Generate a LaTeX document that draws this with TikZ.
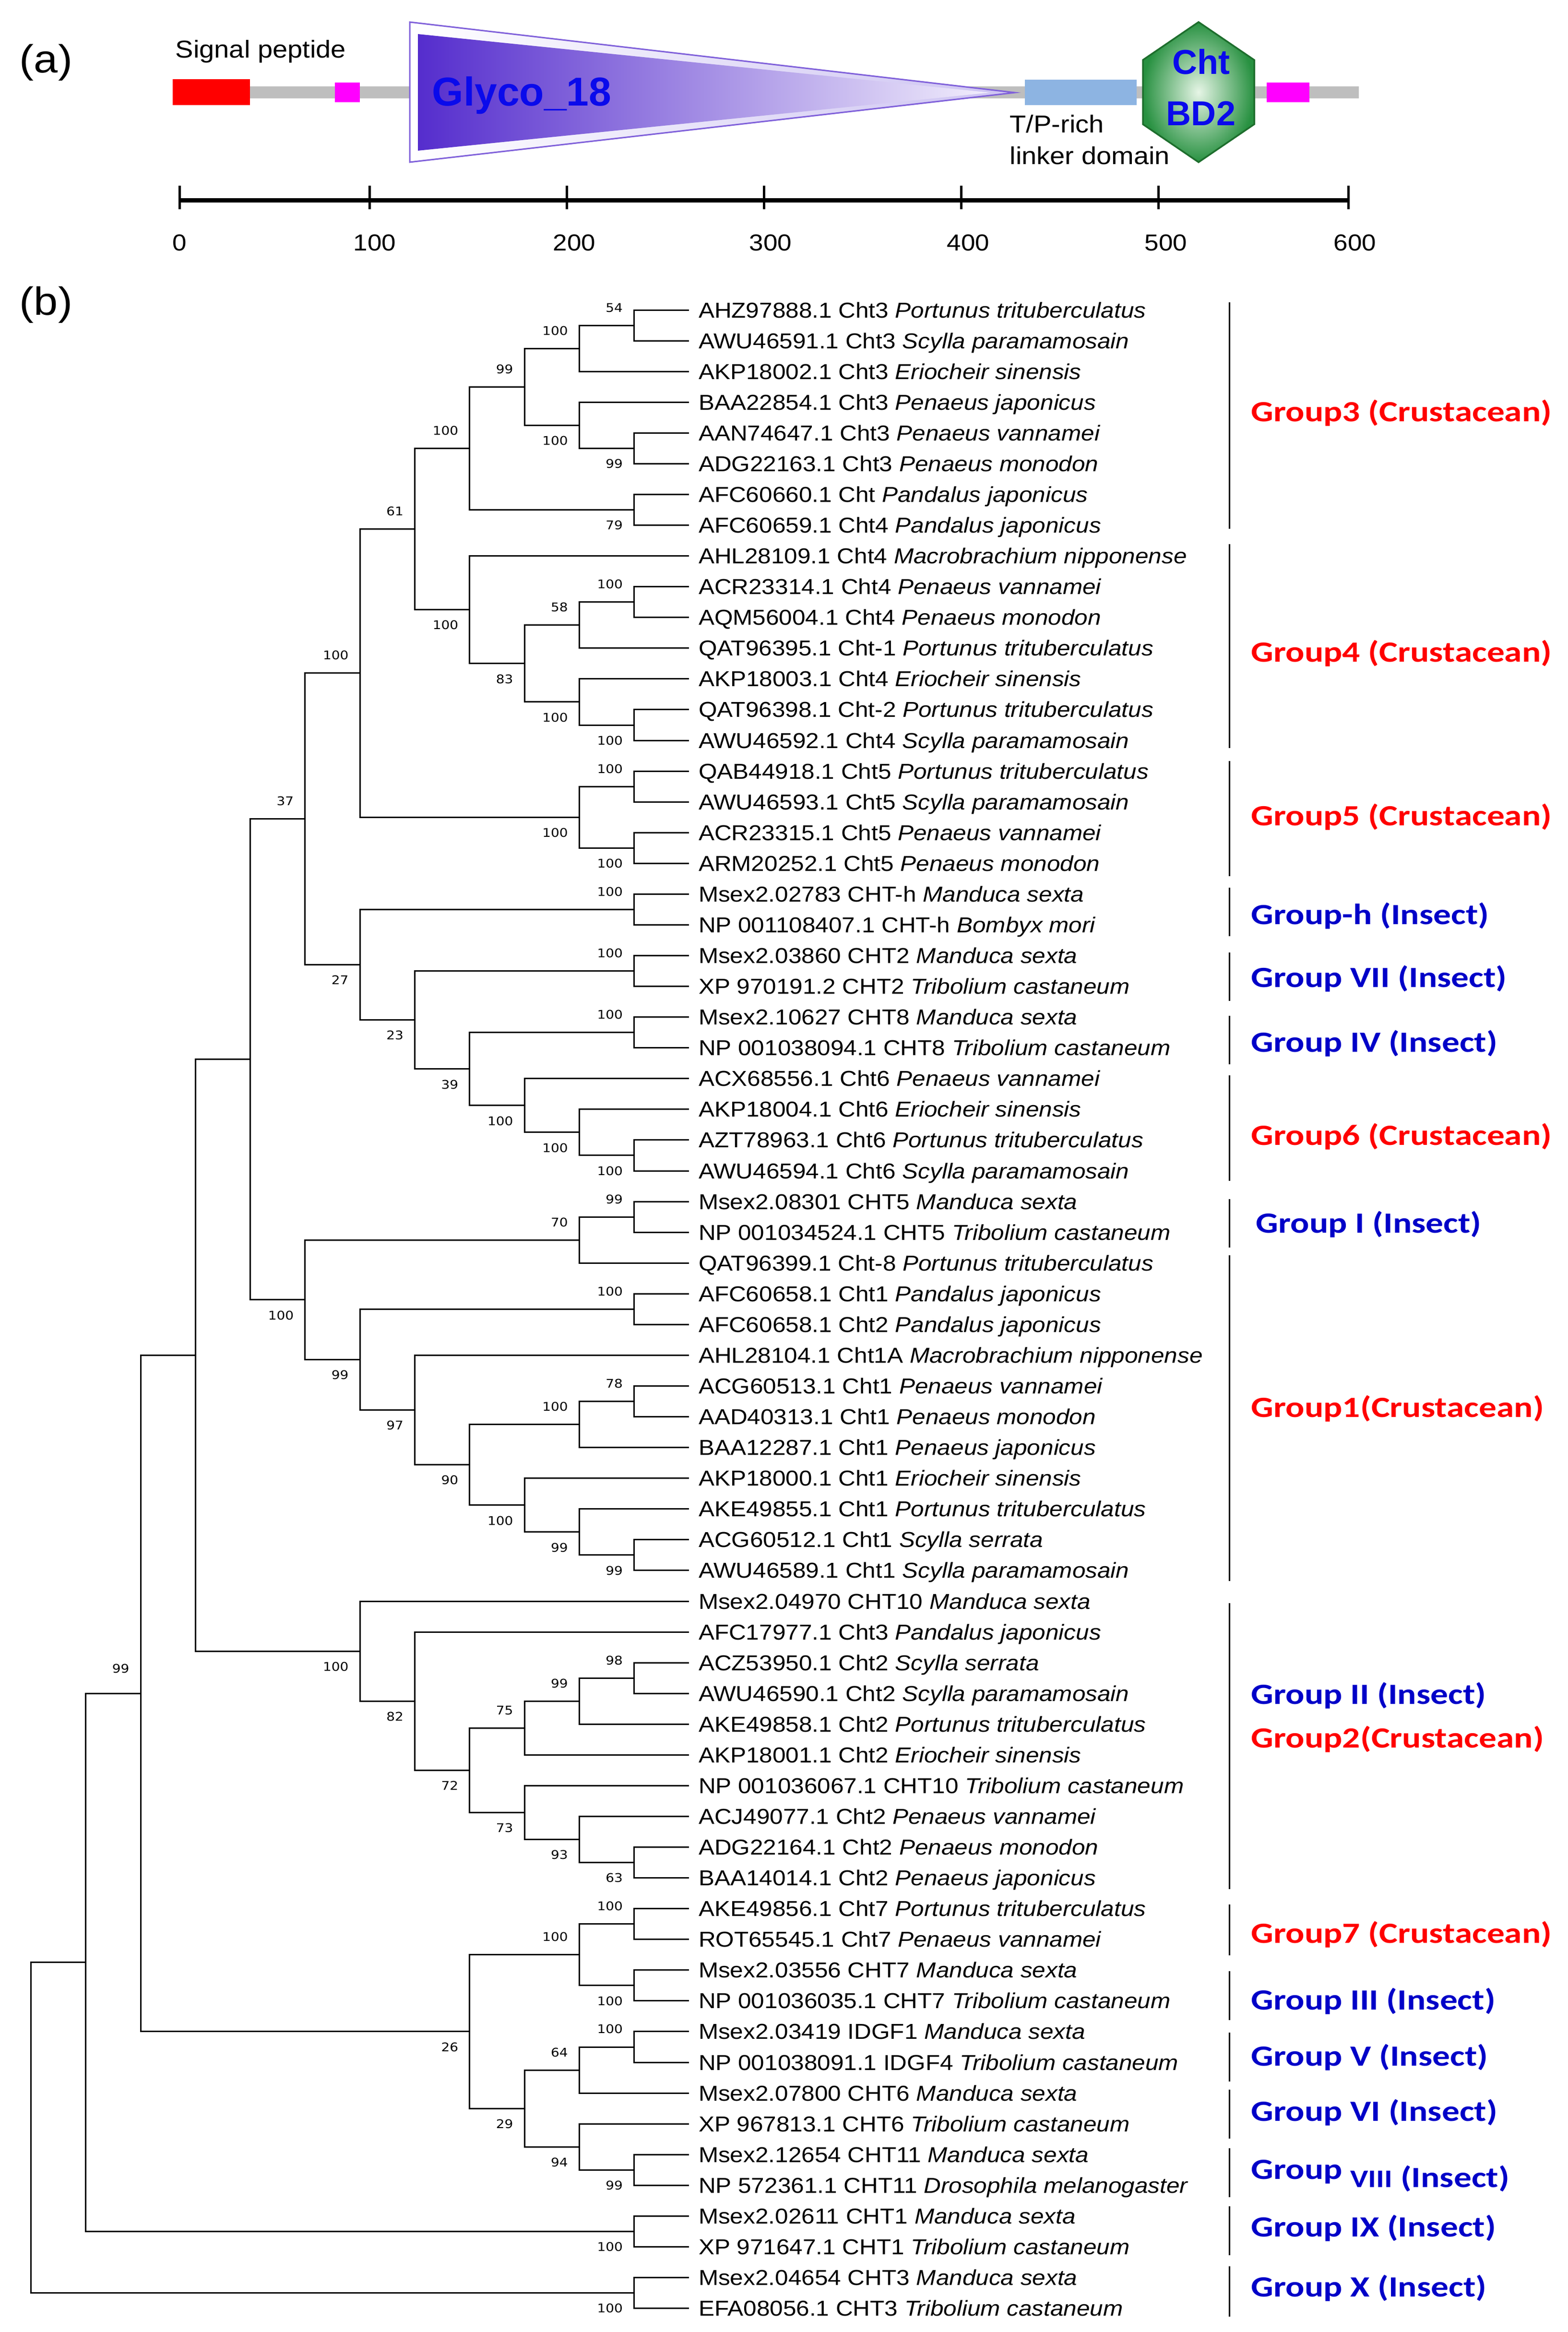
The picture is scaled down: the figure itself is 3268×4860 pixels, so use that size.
\documentclass[tikz,border=0pt]{standalone}
\usepackage{fontspec}
\setmainfont{Liberation Sans}
\newfontfamily\leaffont[FakeStretch=1.1]{Liberation Sans}
\newfontfamily\bootfont[FakeStretch=1.12]{DejaVu Sans}
\newfontfamily\grpfont[FakeStretch=1.2]{Carlito}
\usepackage{tikz}
\definecolor{crustred}{RGB}{255,0,0}
\definecolor{insectblue}{RGB}{0,0,200}
\definecolor{backbone}{RGB}{190,190,190}
\definecolor{sigred}{RGB}{255,0,0}
\definecolor{tmmag}{RGB}{255,0,255}
\definecolor{linker}{RGB}{141,180,226}
\definecolor{glyco}{RGB}{85,45,205}
\definecolor{glycolight}{RGB}{242,238,252}
\definecolor{glycoband}{RGB}{205,195,242}
\definecolor{cbdgreen}{RGB}{40,145,65}
\definecolor{cbdlight}{RGB}{230,245,230}
\definecolor{cbddark}{RGB}{30,110,45}
\definecolor{domblue}{RGB}{10,10,235}

\begin{document}
\begin{tikzpicture}[x=0.1mm, y=-0.1mm,
    twig/.style={line width=0.3mm},
    leaf/.style={anchor=west, inner sep=0pt, outer xsep=2mm, text height=4.3mm, text depth=1.1mm,
        font=\leaffont\fontsize{12.8}{15}\selectfont},
    boot/.style={inner sep=0pt, font=\bootfont\fontsize{7.1}{8}\selectfont},
    bu/.style={boot, anchor=south east, xshift=-2.3mm, yshift=2.7mm},
    bd/.style={boot, anchor=north east, xshift=-2.3mm, yshift=-2.2mm},
    gbar/.style={line width=0.3mm},
    grp/.style={anchor=west, inner sep=0pt, text height=4.6mm, text depth=1.2mm,
        font=\grpfont\bfseries\fontsize{17.4}{20}\selectfont},
    panel/.style={inner sep=0pt, font=\leaffont\fontsize{23.3}{26}\selectfont},
    note/.style={anchor=base west, inner sep=0pt, font=\leaffont\fontsize{14.5}{17}\selectfont},
    scalelab/.style={anchor=base, inner sep=0pt, font=\leaffont\fontsize{13.7}{16}\selectfont},
    dom/.style={anchor=base, inner sep=0pt, font=\bfseries\fontsize{20.5}{24}\selectfont, text=domblue},
    glyc/.style={anchor=base west, inner sep=0pt, font=\bfseries\fontsize{23.9}{28}\selectfont, text=domblue}
]
\useasboundingbox (0,0) rectangle (3268,4860);

\node[panel] (pa) at (96,130) {(a)};
\fill[backbone] (440,180) rectangle (2832,205);
\fill[sigred] (360,165) rectangle (521,219);
\fill[tmmag] (698,172) rectangle (750,213);
\fill[linker] (2136,166) rectangle (2369,219);
\fill[tmmag] (2640,172) rectangle (2729,213);
\shade[left color=white, right color=glycoband] (854,46) -- (854,338) -- (2115,193) -- cycle;
\draw[glyco!75, line width=0.3mm] (854,46) -- (854,338) -- (2115,193) -- cycle;
\shade[left color=glyco, right color=glycolight] (871,71) -- (871,314) -- (2063,193) -- cycle;
\node[glyc] (glyco18) at (900,221) {Glyco\_18};
\shade[inner color=cbdlight, outer color=cbdgreen] (2498,46) -- (2614,125) -- (2614,259) -- (2498,338) -- (2382,259) -- (2382,125) -- cycle;
\draw[cbddark, line width=0.35mm] (2498,46) -- (2614,125) -- (2614,259) -- (2498,338) -- (2382,259) -- (2382,125) -- cycle;
\node[dom] (cht) at (2503,155) {Cht};
\node[dom] (bd2) at (2503,262) {BD2};
\node[note] (sig) at (365,121) {Signal peptide};
\node[note] (tp) at (2104,277) {T/P-rich};
\node[note] (lk) at (2104,343) {linker domain};

\draw[line width=0.9mm] (374,418) -- (2810,418);
\draw[line width=0.5mm] (374,387) -- (374,436) (770,387) -- (770,436) (1181,387) -- (1181,436)
    (1592,387) -- (1592,436) (2003,387) -- (2003,436) (2414,387) -- (2414,436) (2810,387) -- (2810,436);
\node[scalelab] (s0) at (374,523) {0};
\node[scalelab] (s1) at (781,523) {100};
\node[scalelab] (s2) at (1197,523) {200};
\node[scalelab] (s3) at (1606,523) {300};
\node[scalelab] (s4) at (2018,523) {400};
\node[scalelab] (s5) at (2430,523) {500};
\node[scalelab] (s6) at (2824,523) {600};

\node[panel] (pb) at (96,635) {(b)};

\begin{scope}[shift={(1436,582)}, x=-11.43mm, y=-6.407mm]
\node[leaf] (l1) at (0,1) {AHZ97888.1 Cht3 \textit{Portunus trituberculatus}};
\node[leaf] (l2) at (0,2) {AWU46591.1 Cht3 \textit{Scylla paramamosain}};
\node[leaf] (l3) at (0,3) {AKP18002.1 Cht3 \textit{Eriocheir sinensis}};
\node[leaf] (l4) at (0,4) {BAA22854.1 Cht3 \textit{Penaeus japonicus}};
\node[leaf] (l5) at (0,5) {AAN74647.1 Cht3 \textit{Penaeus vannamei}};
\node[leaf] (l6) at (0,6) {ADG22163.1 Cht3 \textit{Penaeus monodon}};
\node[leaf] (l7) at (0,7) {AFC60660.1 Cht \textit{Pandalus japonicus}};
\node[leaf] (l8) at (0,8) {AFC60659.1 Cht4 \textit{Pandalus japonicus}};
\node[leaf] (l9) at (0,9) {AHL28109.1 Cht4 \textit{Macrobrachium nipponense}};
\node[leaf] (l10) at (0,10) {ACR23314.1 Cht4 \textit{Penaeus vannamei}};
\node[leaf] (l11) at (0,11) {AQM56004.1 Cht4 \textit{Penaeus monodon}};
\node[leaf] (l12) at (0,12) {QAT96395.1 Cht-1 \textit{Portunus trituberculatus}};
\node[leaf] (l13) at (0,13) {AKP18003.1 Cht4 \textit{Eriocheir sinensis}};
\node[leaf] (l14) at (0,14) {QAT96398.1 Cht-2 \textit{Portunus trituberculatus}};
\node[leaf] (l15) at (0,15) {AWU46592.1 Cht4 \textit{Scylla paramamosain}};
\node[leaf] (l16) at (0,16) {QAB44918.1 Cht5 \textit{Portunus trituberculatus}};
\node[leaf] (l17) at (0,17) {AWU46593.1 Cht5 \textit{Scylla paramamosain}};
\node[leaf] (l18) at (0,18) {ACR23315.1 Cht5 \textit{Penaeus vannamei}};
\node[leaf] (l19) at (0,19) {ARM20252.1 Cht5 \textit{Penaeus monodon}};
\node[leaf] (l20) at (0,20) {Msex2.02783 CHT-h \textit{Manduca sexta}};
\node[leaf] (l21) at (0,21) {NP 001108407.1 CHT-h \textit{Bombyx mori}};
\node[leaf] (l22) at (0,22) {Msex2.03860 CHT2 \textit{Manduca sexta}};
\node[leaf] (l23) at (0,23) {XP 970191.2 CHT2 \textit{Tribolium castaneum}};
\node[leaf] (l24) at (0,24) {Msex2.10627 CHT8 \textit{Manduca sexta}};
\node[leaf] (l25) at (0,25) {NP 001038094.1 CHT8 \textit{Tribolium castaneum}};
\node[leaf] (l26) at (0,26) {ACX68556.1 Cht6 \textit{Penaeus vannamei}};
\node[leaf] (l27) at (0,27) {AKP18004.1 Cht6 \textit{Eriocheir sinensis}};
\node[leaf] (l28) at (0,28) {AZT78963.1 Cht6 \textit{Portunus trituberculatus}};
\node[leaf] (l29) at (0,29) {AWU46594.1 Cht6 \textit{Scylla paramamosain}};
\node[leaf] (l30) at (0,30) {Msex2.08301 CHT5 \textit{Manduca sexta}};
\node[leaf] (l31) at (0,31) {NP 001034524.1 CHT5 \textit{Tribolium castaneum}};
\node[leaf] (l32) at (0,32) {QAT96399.1 Cht-8 \textit{Portunus trituberculatus}};
\node[leaf] (l33) at (0,33) {AFC60658.1 Cht1 \textit{Pandalus japonicus}};
\node[leaf] (l34) at (0,34) {AFC60658.1 Cht2 \textit{Pandalus japonicus}};
\node[leaf] (l35) at (0,35) {AHL28104.1 Cht1A \textit{Macrobrachium nipponense}};
\node[leaf] (l36) at (0,36) {ACG60513.1 Cht1 \textit{Penaeus vannamei}};
\node[leaf] (l37) at (0,37) {AAD40313.1 Cht1 \textit{Penaeus monodon}};
\node[leaf] (l38) at (0,38) {BAA12287.1 Cht1 \textit{Penaeus japonicus}};
\node[leaf] (l39) at (0,39) {AKP18000.1 Cht1 \textit{Eriocheir sinensis}};
\node[leaf] (l40) at (0,40) {AKE49855.1 Cht1 \textit{Portunus trituberculatus}};
\node[leaf] (l41) at (0,41) {ACG60512.1 Cht1 \textit{Scylla serrata}};
\node[leaf] (l42) at (0,42) {AWU46589.1 Cht1 \textit{Scylla paramamosain}};
\node[leaf] (l43) at (0,43) {Msex2.04970 CHT10 \textit{Manduca sexta}};
\node[leaf] (l44) at (0,44) {AFC17977.1 Cht3 \textit{Pandalus japonicus}};
\node[leaf] (l45) at (0,45) {ACZ53950.1 Cht2 \textit{Scylla serrata}};
\node[leaf] (l46) at (0,46) {AWU46590.1 Cht2 \textit{Scylla paramamosain}};
\node[leaf] (l47) at (0,47) {AKE49858.1 Cht2 \textit{Portunus trituberculatus}};
\node[leaf] (l48) at (0,48) {AKP18001.1 Cht2 \textit{Eriocheir sinensis}};
\node[leaf] (l49) at (0,49) {NP 001036067.1 CHT10 \textit{Tribolium castaneum}};
\node[leaf] (l50) at (0,50) {ACJ49077.1 Cht2 \textit{Penaeus vannamei}};
\node[leaf] (l51) at (0,51) {ADG22164.1 Cht2 \textit{Penaeus monodon}};
\node[leaf] (l52) at (0,52) {BAA14014.1 Cht2 \textit{Penaeus japonicus}};
\node[leaf] (l53) at (0,53) {AKE49856.1 Cht7 \textit{Portunus trituberculatus}};
\node[leaf] (l54) at (0,54) {ROT65545.1 Cht7 \textit{Penaeus vannamei}};
\node[leaf] (l55) at (0,55) {Msex2.03556 CHT7 \textit{Manduca sexta}};
\node[leaf] (l56) at (0,56) {NP 001036035.1 CHT7 \textit{Tribolium castaneum}};
\node[leaf] (l57) at (0,57) {Msex2.03419 IDGF1 \textit{Manduca sexta}};
\node[leaf] (l58) at (0,58) {NP 001038091.1 IDGF4 \textit{Tribolium castaneum}};
\node[leaf] (l59) at (0,59) {Msex2.07800 CHT6 \textit{Manduca sexta}};
\node[leaf] (l60) at (0,60) {XP 967813.1 CHT6 \textit{Tribolium castaneum}};
\node[leaf] (l61) at (0,61) {Msex2.12654 CHT11 \textit{Manduca sexta}};
\node[leaf] (l62) at (0,62) {NP 572361.1 CHT11 \textit{Drosophila melanogaster}};
\node[leaf] (l63) at (0,63) {Msex2.02611 CHT1 \textit{Manduca sexta}};
\node[leaf] (l64) at (0,64) {XP 971647.1 CHT1 \textit{Tribolium castaneum}};
\node[leaf] (l65) at (0,65) {Msex2.04654 CHT3 \textit{Manduca sexta}};
\node[leaf] (l66) at (0,66) {EFA08056.1 CHT3 \textit{Tribolium castaneum}};

\coordinate (n1to2) at (1,1.5); \node[bu] (b1to2) at (n1to2) {54};
\coordinate (n1to3) at (2,2.25); \node[bu] (b1to3) at (n1to3) {100};
\coordinate (n5to6) at (1,5.5); \node[bd] (b5to6) at (n5to6) {99};
\coordinate (n4to6) at (2,4.75); \node[bd] (b4to6) at (n4to6) {100};
\coordinate (n1to6) at (3,3.5); \node[bu] (b1to6) at (n1to6) {99};
\coordinate (n7to8) at (1,7.5); \node[bd] (b7to8) at (n7to8) {79};
\coordinate (n1to8) at (4,5.5); \node[bu] (b1to8) at (n1to8) {100};
\coordinate (n10to11) at (1,10.5); \node[bu] (b10to11) at (n10to11) {100};
\coordinate (n10to12) at (2,11.25); \node[bu] (b10to12) at (n10to12) {58};
\coordinate (n14to15) at (1,14.5); \node[bd] (b14to15) at (n14to15) {100};
\coordinate (n13to15) at (2,13.75); \node[bd] (b13to15) at (n13to15) {100};
\coordinate (n10to15) at (3,12.5); \node[bd] (b10to15) at (n10to15) {83};
\coordinate (n9to15) at (4,10.75); \node[bd] (b9to15) at (n9to15) {100};
\coordinate (n1to15) at (5,8.125); \node[bu] (b1to15) at (n1to15) {61};
\coordinate (n16to17) at (1,16.5); \node[bu] (b16to17) at (n16to17) {100};
\coordinate (n18to19) at (1,18.5); \node[bd] (b18to19) at (n18to19) {100};
\coordinate (n16to19) at (2,17.5); \node[bd] (b16to19) at (n16to19) {100};
\coordinate (n1to19) at (6,12.8125); \node[bu] (b1to19) at (n1to19) {100};
\coordinate (n20to21) at (1,20.5); \node[bu] (b20to21) at (n20to21) {100};
\coordinate (n22to23) at (1,22.5); \node[bu] (b22to23) at (n22to23) {100};
\coordinate (n24to25) at (1,24.5); \node[bu] (b24to25) at (n24to25) {100};
\coordinate (n28to29) at (1,28.5); \node[bd] (b28to29) at (n28to29) {100};
\coordinate (n27to29) at (2,27.75); \node[bd] (b27to29) at (n27to29) {100};
\coordinate (n26to29) at (3,26.875); \node[bd] (b26to29) at (n26to29) {100};
\coordinate (n24to29) at (4,25.6875); \node[bd] (b24to29) at (n24to29) {39};
\coordinate (n22to29) at (5,24.09375); \node[bd] (b22to29) at (n22to29) {23};
\coordinate (n20to29) at (6,22.296875); \node[bd] (b20to29) at (n20to29) {27};
\coordinate (n1to29) at (7,17.5546875); \node[bu] (b1to29) at (n1to29) {37};
\coordinate (n30to31) at (1,30.5); \node[bu] (b30to31) at (n30to31) {99};
\coordinate (n30to32) at (2,31.25); \node[bu] (b30to32) at (n30to32) {70};
\coordinate (n33to34) at (1,33.5); \node[bu] (b33to34) at (n33to34) {100};
\coordinate (n36to37) at (1,36.5); \node[bu] (b36to37) at (n36to37) {78};
\coordinate (n36to38) at (2,37.25); \node[bu] (b36to38) at (n36to38) {100};
\coordinate (n41to42) at (1,41.5); \node[bd] (b41to42) at (n41to42) {99};
\coordinate (n40to42) at (2,40.75); \node[bd] (b40to42) at (n40to42) {99};
\coordinate (n39to42) at (3,39.875); \node[bd] (b39to42) at (n39to42) {100};
\coordinate (n36to42) at (4,38.5625); \node[bd] (b36to42) at (n36to42) {90};
\coordinate (n35to42) at (5,36.78125); \node[bd] (b35to42) at (n35to42) {97};
\coordinate (n33to42) at (6,35.140625); \node[bd] (b33to42) at (n33to42) {99};
\coordinate (n30to42) at (7,33.1953125); \node[bd] (b30to42) at (n30to42) {100};
\coordinate (n1to42) at (8,25.375);
\coordinate (n45to46) at (1,45.5); \node[bu] (b45to46) at (n45to46) {98};
\coordinate (n45to47) at (2,46.25); \node[bu] (b45to47) at (n45to47) {99};
\coordinate (n45to48) at (3,47.125); \node[bu] (b45to48) at (n45to48) {75};
\coordinate (n51to52) at (1,51.5); \node[bd] (b51to52) at (n51to52) {63};
\coordinate (n50to52) at (2,50.75); \node[bd] (b50to52) at (n50to52) {93};
\coordinate (n49to52) at (3,49.875); \node[bd] (b49to52) at (n49to52) {73};
\coordinate (n45to52) at (4,48.5); \node[bd] (b45to52) at (n45to52) {72};
\coordinate (n44to52) at (5,46.25); \node[bd] (b44to52) at (n44to52) {82};
\coordinate (n43to52) at (6,44.625); \node[bd] (b43to52) at (n43to52) {100};
\coordinate (n1to52) at (9,35);
\coordinate (n53to54) at (1,53.5); \node[bu] (b53to54) at (n53to54) {100};
\coordinate (n55to56) at (1,55.5); \node[bd] (b55to56) at (n55to56) {100};
\coordinate (n53to56) at (2,54.5); \node[bu] (b53to56) at (n53to56) {100};
\coordinate (n57to58) at (1,57.5); \node[bu] (b57to58) at (n57to58) {100};
\coordinate (n57to59) at (2,58.25); \node[bu] (b57to59) at (n57to59) {64};
\coordinate (n61to62) at (1,61.5); \node[bd] (b61to62) at (n61to62) {99};
\coordinate (n60to62) at (2,60.75); \node[bd] (b60to62) at (n60to62) {94};
\coordinate (n57to62) at (3,59.5); \node[bd] (b57to62) at (n57to62) {29};
\coordinate (n53to62) at (4,57); \node[bd] (b53to62) at (n53to62) {26};
\coordinate (n1to62) at (10,46); \node[bu, yshift=1.5mm] (b1to62) at (n1to62) {99};
\coordinate (n63to64) at (1,63.5); \node[bd] (b63to64) at (n63to64) {100};
\coordinate (n1to64) at (11,54.75);
\coordinate (n65to66) at (1,65.5); \node[bd] (b65to66) at (n65to66) {100};
\coordinate (root) at (12,60.125);

\draw[twig] (n1to2) |- (l1.west) (n1to2) |- (l2.west);
\draw[twig] (n1to3) |- (n1to2) (n1to3) |- (l3.west);
\draw[twig] (n5to6) |- (l5.west) (n5to6) |- (l6.west);
\draw[twig] (n4to6) |- (l4.west) (n4to6) |- (n5to6);
\draw[twig] (n1to6) |- (n1to3) (n1to6) |- (n4to6);
\draw[twig] (n7to8) |- (l7.west) (n7to8) |- (l8.west);
\draw[twig] (n1to8) |- (n1to6) (n1to8) |- (n7to8);
\draw[twig] (n10to11) |- (l10.west) (n10to11) |- (l11.west);
\draw[twig] (n10to12) |- (n10to11) (n10to12) |- (l12.west);
\draw[twig] (n14to15) |- (l14.west) (n14to15) |- (l15.west);
\draw[twig] (n13to15) |- (l13.west) (n13to15) |- (n14to15);
\draw[twig] (n10to15) |- (n10to12) (n10to15) |- (n13to15);
\draw[twig] (n9to15) |- (l9.west) (n9to15) |- (n10to15);
\draw[twig] (n1to15) |- (n1to8) (n1to15) |- (n9to15);
\draw[twig] (n16to17) |- (l16.west) (n16to17) |- (l17.west);
\draw[twig] (n18to19) |- (l18.west) (n18to19) |- (l19.west);
\draw[twig] (n16to19) |- (n16to17) (n16to19) |- (n18to19);
\draw[twig] (n1to19) |- (n1to15) (n1to19) |- (n16to19);
\draw[twig] (n20to21) |- (l20.west) (n20to21) |- (l21.west);
\draw[twig] (n22to23) |- (l22.west) (n22to23) |- (l23.west);
\draw[twig] (n24to25) |- (l24.west) (n24to25) |- (l25.west);
\draw[twig] (n28to29) |- (l28.west) (n28to29) |- (l29.west);
\draw[twig] (n27to29) |- (l27.west) (n27to29) |- (n28to29);
\draw[twig] (n26to29) |- (l26.west) (n26to29) |- (n27to29);
\draw[twig] (n24to29) |- (n24to25) (n24to29) |- (n26to29);
\draw[twig] (n22to29) |- (n22to23) (n22to29) |- (n24to29);
\draw[twig] (n20to29) |- (n20to21) (n20to29) |- (n22to29);
\draw[twig] (n1to29) |- (n1to19) (n1to29) |- (n20to29);
\draw[twig] (n30to31) |- (l30.west) (n30to31) |- (l31.west);
\draw[twig] (n30to32) |- (n30to31) (n30to32) |- (l32.west);
\draw[twig] (n33to34) |- (l33.west) (n33to34) |- (l34.west);
\draw[twig] (n36to37) |- (l36.west) (n36to37) |- (l37.west);
\draw[twig] (n36to38) |- (n36to37) (n36to38) |- (l38.west);
\draw[twig] (n41to42) |- (l41.west) (n41to42) |- (l42.west);
\draw[twig] (n40to42) |- (l40.west) (n40to42) |- (n41to42);
\draw[twig] (n39to42) |- (l39.west) (n39to42) |- (n40to42);
\draw[twig] (n36to42) |- (n36to38) (n36to42) |- (n39to42);
\draw[twig] (n35to42) |- (l35.west) (n35to42) |- (n36to42);
\draw[twig] (n33to42) |- (n33to34) (n33to42) |- (n35to42);
\draw[twig] (n30to42) |- (n30to32) (n30to42) |- (n33to42);
\draw[twig] (n1to42) |- (n1to29) (n1to42) |- (n30to42);
\draw[twig] (n45to46) |- (l45.west) (n45to46) |- (l46.west);
\draw[twig] (n45to47) |- (n45to46) (n45to47) |- (l47.west);
\draw[twig] (n45to48) |- (n45to47) (n45to48) |- (l48.west);
\draw[twig] (n51to52) |- (l51.west) (n51to52) |- (l52.west);
\draw[twig] (n50to52) |- (l50.west) (n50to52) |- (n51to52);
\draw[twig] (n49to52) |- (l49.west) (n49to52) |- (n50to52);
\draw[twig] (n45to52) |- (n45to48) (n45to52) |- (n49to52);
\draw[twig] (n44to52) |- (l44.west) (n44to52) |- (n45to52);
\draw[twig] (n43to52) |- (l43.west) (n43to52) |- (n44to52);
\draw[twig] (n1to52) |- (n1to42) (n1to52) |- (n43to52);
\draw[twig] (n53to54) |- (l53.west) (n53to54) |- (l54.west);
\draw[twig] (n55to56) |- (l55.west) (n55to56) |- (l56.west);
\draw[twig] (n53to56) |- (n53to54) (n53to56) |- (n55to56);
\draw[twig] (n57to58) |- (l57.west) (n57to58) |- (l58.west);
\draw[twig] (n57to59) |- (n57to58) (n57to59) |- (l59.west);
\draw[twig] (n61to62) |- (l61.west) (n61to62) |- (l62.west);
\draw[twig] (n60to62) |- (l60.west) (n60to62) |- (n61to62);
\draw[twig] (n57to62) |- (n57to59) (n57to62) |- (n60to62);
\draw[twig] (n53to62) |- (n53to56) (n53to62) |- (n57to62);
\draw[twig] (n1to62) |- (n1to52) (n1to62) |- (n53to62);
\draw[twig] (n63to64) |- (l63.west) (n63to64) |- (l64.west);
\draw[twig] (n1to64) |- (n1to62) (n1to64) |- (n63to64);
\draw[twig] (n65to66) |- (l65.west) (n65to66) |- (l66.west);
\draw[twig] (root) |- (n1to64) (root) |- (n65to66);
\end{scope}

\draw[gbar] (2562,630) -- (2562,1102) (2562,1134) -- (2562,1559) (2562,1586) -- (2562,1826)
    (2562,1850) -- (2562,1951) (2562,1985) -- (2562,2086) (2562,2117) -- (2562,2218)
    (2562,2241) -- (2562,2461) (2562,2499) -- (2562,2600) (2562,2616) -- (2562,3295)
    (2562,3341) -- (2562,3937) (2562,3969) -- (2562,4075) (2562,4108) -- (2562,4210)
    (2562,4236) -- (2562,4338) (2562,4355) -- (2562,4457) (2562,4477) -- (2562,4579)
    (2562,4598) -- (2562,4700) (2562,4723) -- (2562,4828);
\node[grp, text=crustred] (g3) at (2607,861) {Group3 (Crustacean)};
\node[grp, text=crustred] (g4) at (2607,1362) {Group4 (Crustacean)};
\node[grp, text=crustred] (g5) at (2607,1703) {Group5 (Crustacean)};
\node[grp, text=insectblue] (gh) at (2607,1909) {Group-h (Insect)};
\node[grp, text=insectblue] (g7i) at (2607,2040) {Group VII (Insect)};
\node[grp, text=insectblue] (g4i) at (2607,2175) {Group IV (Insect)};
\node[grp, text=crustred] (g6) at (2607,2369) {Group6 (Crustacean)};
\node[grp, text=insectblue] (g1i) at (2617,2552) {Group I (Insect)};
\node[grp, text=crustred] (g1) at (2607,2936) {Group1(Crustacean)};
\node[grp, text=insectblue] (g2i) at (2607,3534) {Group II (Insect)};
\node[grp, text=crustred] (g2) at (2607,3625) {Group2(Crustacean)};
\node[grp, text=crustred] (g7) at (2607,4032) {Group7 (Crustacean)};
\node[grp, text=insectblue] (g3i) at (2607,4171) {Group III (Insect)};
\node[grp, text=insectblue] (g5i) at (2607,4288) {Group V (Insect)};
\node[grp, text=insectblue] (g6i) at (2607,4403) {Group VI (Insect)};
\node[grp, text=insectblue] (g8i) at (2607,4541) {\raisebox{1.7mm}{Group} {\fontsize{15}{17}\selectfont VIII} (Insect)};
\node[grp, text=insectblue] (g9i) at (2607,4644) {Group IX (Insect)};
\node[grp, text=insectblue] (g10i) at (2607,4769) {Group X (Insect)};
\end{tikzpicture}
\end{document}
